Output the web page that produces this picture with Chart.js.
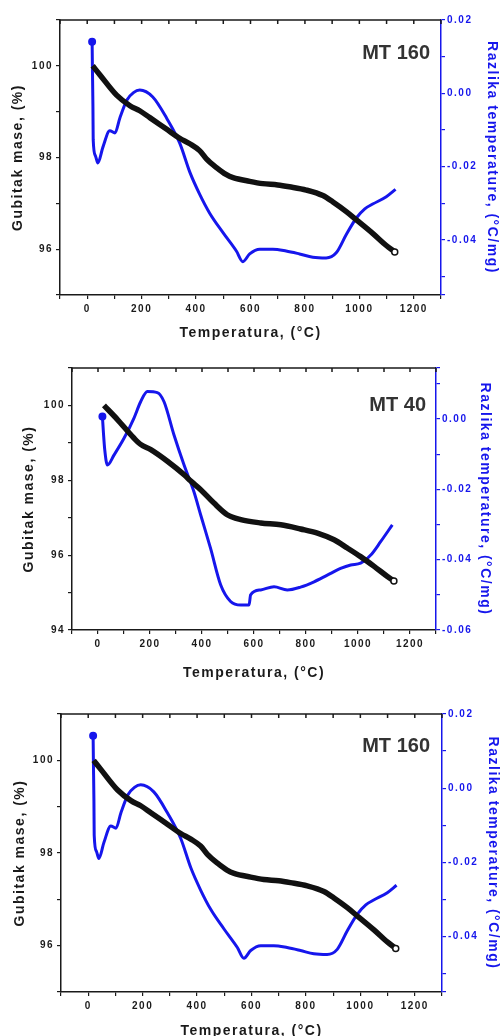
<!DOCTYPE html>
<html>
<head>
<meta charset="utf-8">
<script src="https://cdn.jsdelivr.net/npm/chart.js@4.4.1/dist/chart.umd.min.js"></script>
<style>
  body { margin: 0; background: #fff; width: 502px; height: 1036px; overflow: hidden; position: relative; }
  canvas { position: absolute; left: 0; }
</style>
</head>
<body>
<canvas id="c1" width="502" height="345" style="top:0px"></canvas>
<canvas id="c2" width="502" height="345" style="top:345px"></canvas>
<canvas id="c3" width="502" height="350" style="top:690px"></canvas>
<script>
// MT 160 - mass loss (TG) and temperature difference (DTA)
const mt160Temp = [20, 47, 108, 157, 193, 230, 291, 340, 377, 413, 438, 475, 510, 536, 597, 645, 700, 743, 805, 866, 903, 952, 989, 1050, 1099, 1130];
const mt160Mass = [100.0, 99.8, 99.36, 99.13, 99.02, 98.87, 98.62, 98.42, 98.3, 98.15, 97.97, 97.78, 97.63, 97.56, 97.48, 97.43, 97.4, 97.36, 97.29, 97.17, 97.03, 96.82, 96.64, 96.34, 96.08, 95.94];
const mt160DtaTemp = [18, 19, 21, 22, 30, 39, 58, 83, 102, 120, 146, 170, 193, 241, 292, 340, 377, 413, 450, 499, 548, 572, 597, 634, 682, 731, 780, 829, 878, 915, 952, 989, 1020, 1049, 1099, 1133];
const mt160Dta = [0.0141, 0.0077, -0.0035, -0.0127, -0.017, -0.019, -0.0146, -0.0102, -0.0108, -0.0067, -0.0018, 0.0002, 0.0009, -0.001, -0.0068, -0.0136, -0.0215, -0.0275, -0.0327, -0.038, -0.043, -0.0459, -0.0438, -0.0425, -0.0425, -0.043, -0.0438, -0.0447, -0.0449, -0.0435, -0.0385, -0.034, -0.0315, -0.0302, -0.0282, -0.0262];

// MT 40
const mt40Temp = [23, 74, 138, 164, 203, 267, 331, 357, 395, 446, 497, 549, 626, 703, 779, 844, 908, 959, 1010, 1062, 1113, 1138];
const mt40Mass = [100.0, 99.63, 99.13, 98.96, 98.82, 98.51, 98.15, 97.98, 97.75, 97.39, 97.08, 96.95, 96.86, 96.81, 96.7, 96.59, 96.41, 96.19, 95.96, 95.7, 95.43, 95.31];
const mt40DtaTemp = [17, 21, 26, 36, 62, 100, 138, 164, 190, 228, 254, 292, 331, 369, 395, 433, 472, 510, 549, 581, 587, 626, 677, 728, 779, 831, 882, 933, 972, 1010, 1049, 1087, 1132];
const mt40Dta = [0.0007, -0.004, -0.0088, -0.0131, -0.0102, -0.0055, 0.0002, 0.0049, 0.0078, 0.0075, 0.0049, -0.0045, -0.0131, -0.0207, -0.0273, -0.0368, -0.0472, -0.0519, -0.0529, -0.0529, -0.05, -0.0486, -0.0477, -0.0486, -0.0478, -0.0463, -0.0444, -0.0425, -0.0415, -0.041, -0.0387, -0.0349, -0.0301];

// tick labels
const tempLabels = [0, 200, 400, 600, 800, 1000, 1200];
const mass160Labels = [96, 98, 100];
const mass40Labels = [94, 96, 98, 100];
const dta160Labels = [-0.04, -0.02, 0.00, 0.02];
const dta40Labels = [-0.06, -0.04, -0.02, 0.00];

const BLUE = '#1616ec';
const INK = '#1a1a1a';
const FONT = '"Liberation Sans", Arial, sans-serif';

const toPts = (xs, ys) => xs.map((x, i) => ({ x: x, y: ys[i] }));
const has = (list, v) => list.some(l => Math.abs(l - v) < 1e-6);

const framePlugin = {
    id: 'frame',
    beforeDraw(chart) {
        chart.ctx.letterSpacing = '1.5px';
    },
    afterDraw(chart, args, opts) {
        const { ctx, chartArea: a, scales } = chart;
        ctx.save();
        ctx.strokeStyle = INK;
        ctx.lineWidth = 1.5;
        ctx.beginPath();
        ctx.moveTo(a.left, a.top);
        ctx.lineTo(a.right, a.top);
        scales.x.ticks.forEach(t => {
            const px = scales.x.getPixelForValue(t.value);
            ctx.moveTo(px, a.top);
            ctx.lineTo(px, a.top + 4);
        });
        ctx.stroke();
        ctx.letterSpacing = '0px';
        ctx.font = 'bold 20px ' + FONT;
        ctx.fillStyle = '#333';
        ctx.textAlign = 'right';
        ctx.textBaseline = 'middle';
        ctx.fillText(opts.text, a.right + opts.dx, a.top + opts.dy);
        ctx.restore();
    }
};

function makeChart(id, p) {
    new Chart(document.getElementById(id), {
        type: 'line',
        data: {
            datasets: [
                {
                    data: toPts(p.massT, p.mass),
                    yAxisID: 'y',
                    borderColor: '#111',
                    borderWidth: 5.5,
                    pointRadius: c => (c.dataIndex === p.massT.length - 1 ? 3 : 0),
                    pointBackgroundColor: '#fff',
                    pointBorderColor: '#111',
                    pointBorderWidth: 1.5,
                    cubicInterpolationMode: 'monotone',
                },
                {
                    data: toPts(p.dtaT, p.dta),
                    yAxisID: 'y1',
                    borderColor: BLUE,
                    backgroundColor: BLUE,
                    borderWidth: 3,
                    pointRadius: c => (c.dataIndex === 0 ? 2.5 : 0),
                    cubicInterpolationMode: 'monotone',
                },
            ],
        },
        options: {
            responsive: false,
            animation: false,
            devicePixelRatio: 1,
            layout: { padding: { top: p.top, left: 0, right: 0, bottom: 0 } },
            plugins: {
                legend: { display: false },
                tooltip: { enabled: false },
                frame: { text: p.label, dx: p.labelDx, dy: p.labelDy },
            },
            scales: {
                x: {
                    type: 'linear',
                    min: -100,
                    max: 1300,
                    afterFit: s => { s.height = p.xH; },
                    ticks: {
                        stepSize: 100,
                        autoSkip: false,
                        maxRotation: 0,
                        padding: 4,
                        color: INK,
                        font: { family: FONT, size: 10, weight: 'bold' },
                        callback: v => (has(tempLabels, v) ? String(Math.round(v)) : ''),
                    },
                    grid: { drawOnChartArea: false, tickLength: 4, color: INK, lineWidth: 1.2 },
                    border: { color: INK, width: 1.5 },
                    title: {
                        display: true,
                        text: 'Temperatura, (°C)',
                        color: INK,
                        font: { family: FONT, size: 14, weight: 'bold' },
                        padding: { top: 0, bottom: p.xTitlePad },
                    },
                },
                y: {
                    position: 'left',
                    min: p.massMin,
                    max: 101,
                    afterFit: s => { s.width = p.leftW; },
                    ticks: {
                        stepSize: 1,
                        autoSkip: false,
                        padding: 3,
                        color: INK,
                        font: { family: FONT, size: 10, weight: 'bold' },
                        callback: v => (has(p.massLabels, v) ? String(Math.round(v)) : ''),
                    },
                    grid: { drawOnChartArea: false, tickLength: 4, color: INK, lineWidth: 1.2 },
                    border: { color: INK, width: 1.5 },
                    title: {
                        display: true,
                        text: 'Gubitak mase, (%)',
                        color: INK,
                        font: { family: FONT, size: 14, weight: 'bold' },
                        padding: { top: p.leftTitlePad, bottom: 0 },
                    },
                },
                y1: {
                    position: 'right',
                    min: p.dtaMin,
                    max: p.dtaMax,
                    afterFit: s => { s.width = p.rightW; },
                    ticks: {
                        stepSize: 0.01,
                        autoSkip: false,
                        padding: 2,
                        color: BLUE,
                        font: { family: FONT, size: 10, weight: 'bold' },
                        callback: v => (has(p.dtaLabels, v) ? (Math.abs(v) < 1e-6 ? '0.00' : v.toFixed(2)) : ''),
                    },
                    grid: { drawOnChartArea: false, tickLength: 4, color: BLUE, lineWidth: 1.2 },
                    border: { color: BLUE, width: 1.5 },
                    title: {
                        display: true,
                        text: 'Razlika temperature, (°C/mg)',
                        color: BLUE,
                        font: { family: FONT, size: 14, weight: 'bold' },
                        padding: { top: p.rightTitlePad, bottom: 0 },
                    },
                },
            },
        },
        plugins: [framePlugin],
    });
}

makeChart('c1', {
    massT: mt160Temp, mass: mt160Mass, dtaT: mt160DtaTemp, dta: mt160Dta,
    massMin: 95, dtaMin: -0.055, dtaMax: 0.02,
    massLabels: mass160Labels, dtaLabels: dta160Labels, label: 'MT 160',
    top: 20, leftW: 60, rightW: 61, xH: 50,
    leftTitlePad: 9.6, rightTitlePad: 1.9, xTitlePad: 3.6,
    labelDx: -11, labelDy: 33,
});

makeChart('c2', {
    massT: mt40Temp, mass: mt40Mass, dtaT: mt40DtaTemp, dta: mt40Dta,
    massMin: 94, dtaMin: -0.06, dtaMax: 0.0145,
    massLabels: mass40Labels, dtaLabels: dta40Labels, label: 'MT 40',
    top: 23, leftW: 72, rightW: 66, xH: 60,
    leftTitlePad: 20.6, rightTitlePad: 8.6, xTitlePad: 8.6,
    labelDx: -10, labelDy: 37,
});

makeChart('c3', {
    massT: mt160Temp, mass: mt160Mass, dtaT: mt160DtaTemp, dta: mt160Dta,
    massMin: 95, dtaMin: -0.055, dtaMax: 0.02,
    massLabels: mass160Labels, dtaLabels: dta160Labels, label: 'MT 160',
    top: 24, leftW: 61, rightW: 60, xH: 48,
    leftTitlePad: 11.6, rightTitlePad: 0.6, xTitlePad: 0.5,
    labelDx: -12, labelDy: 32,
});
</script>
</body>
</html>
